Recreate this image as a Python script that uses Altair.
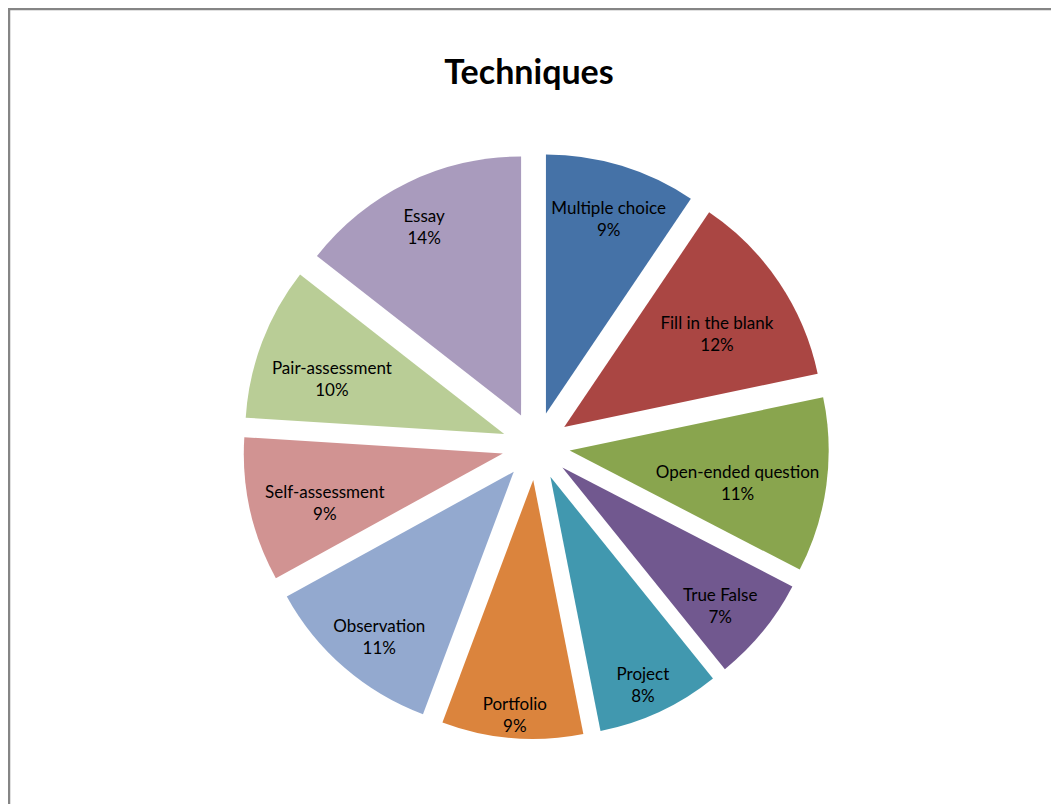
import altair as alt
import pandas as pd

categories = ["Multiple choice", "Fill in the blank", "Open-ended question", "True False",
              "Project", "Portfolio", "Observation", "Self-assessment", "Pair-assessment", "Essay"]
# shares (labels show them rounded)
share = [9.45, 12.25, 10.9, 6.6, 7.7, 8.8, 11.3, 9.0, 9.55, 14.45]
colors = ["#4572A7", "#AA4643", "#89A54E", "#71588F", "#4198AF",
          "#DB843D", "#93A9CF", "#D19392", "#B9CD96", "#A99BBD"]
title_text = "Techniques"

df = pd.DataFrame({"category": categories, "share": share, "order": list(range(len(categories)))})

W, H = 1043, 796
CX, CY, R, D = 528, 438, 259, 34

base = alt.Chart(df).transform_window(
    cum="sum(share)", sort=[alt.SortField("order")], frame=[None, 0]
).transform_joinaggregate(
    total="sum(share)"
).transform_calculate(
    a0="2*PI*(datum.cum - datum.share)/datum.total",
    a1="2*PI*datum.cum/datum.total",
    pct="round(100*datum.share/datum.total)",
).transform_calculate(
    mid="(datum.a0 + datum.a1)/2"
).transform_calculate(
    px=f"{CX} + {D}*sin(datum.mid)",
    py=f"{CY} - {D}*cos(datum.mid)",
    lr=f"{R}*(0.88 - 0.012*length(datum.category)*abs(sin(datum.mid)))",
    label="datum.category + '\\n' + datum.pct + '%'",
).transform_calculate(
    lx="datum.px + datum.lr*sin(datum.mid)",
    ly="datum.py - datum.lr*cos(datum.mid)",
)

arcs = base.mark_arc(radius=R, stroke=None).encode(
    x=alt.X("px:Q", scale=None),
    y=alt.Y("py:Q", scale=None),
    theta=alt.Theta("a0:Q", scale=None),
    theta2="a1:Q",
    color=alt.Color("category:N", scale=alt.Scale(domain=categories, range=colors), legend=None),
)

labels = base.mark_text(
    font="Lato", fontSize=17, color="#000000", lineBreak="\n", lineHeight=22,
    align="center", baseline="middle",
).encode(
    x=alt.X("lx:Q", scale=None),
    y=alt.Y("ly:Q", scale=None),
    text="label:N",
)

one = pd.DataFrame({"t": [title_text]})
title = alt.Chart(one).mark_text(
    font="Lato", fontSize=34, fontWeight="bold", color="#000000", align="center", baseline="middle"
).encode(x=alt.value(521), y=alt.value(66), text="t:N")

frame_left = alt.Chart(one).mark_rule(color="#858585", strokeWidth=2.5).encode(
    x=alt.value(1), y=alt.value(0), y2=alt.value(H))
frame_top = alt.Chart(one).mark_rule(color="#858585", strokeWidth=2.5).encode(
    x=alt.value(0), x2=alt.value(W), y=alt.value(1))

chart = alt.layer(frame_left, frame_top, arcs, labels, title).properties(
    width=W, height=H, autosize="none", padding=0, background="#ffffff"
).configure_view(stroke=None)

chart.save("out.html", embed_options={"renderer": "svg", "actions": False})
